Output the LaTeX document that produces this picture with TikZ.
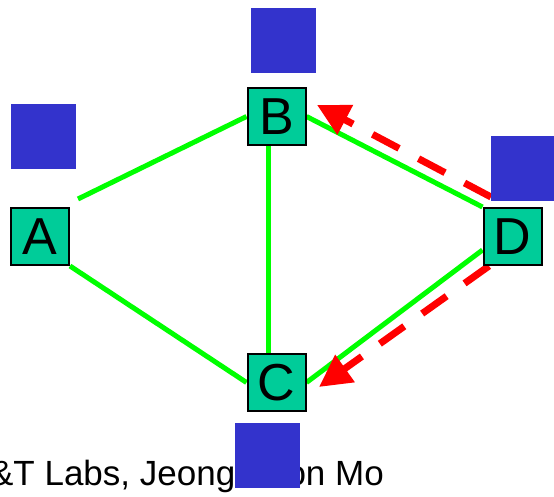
\documentclass[tikz,border=0pt]{standalone}
\usepackage{fontspec}
\setmainfont{Liberation Sans}
\usepackage{tikz}
\usetikzlibrary{arrows.meta,backgrounds}

\definecolor{routerfill}{HTML}{00CC99}
\definecolor{tagblue}{HTML}{3333CC}
\definecolor{linkgreen}{HTML}{00FF00}
\definecolor{msgred}{HTML}{FF0000}

\tikzset{
  router/.style={draw=black, line width=2pt, fill=routerfill, minimum width=58pt,
    minimum height=57pt, inner sep=0pt, font=\fontsize{52pt}{52pt}\selectfont},
  tagbox/.style={fill=tagblue, minimum size=65pt, inner sep=0pt},
  link/.style={draw=linkgreen, line width=5pt},
  update/.style={draw=msgred, line width=7pt, dash pattern=on 30pt off 22pt,
    -{Triangle[length=32pt,width=32pt]}, msgred},
}

\begin{document}
\begin{tikzpicture}[x=1pt, y=1pt]
  \useasboundingbox (0,0) rectangle (554,497);

  % routers
  \node[router] (A) at (40,260.5)  {A};
  \node[router] (B) at (276.5,380.5) {B};
  \node[router] (C) at (276.5,114.5) {C};
  \node[router] (D) at (512.5,260.5) {D};

  \begin{scope}[on background layer]
    % links
    \path[link] ([shift={(8,8)}]A.north east) -- (B.west);
    \path[link] (A.south east) -- (C.west);
    \path[link] ([xshift=-8.5]B.south) -- ([xshift=-8.5]C.north);
    \path[link] (B.east) -- (D.north west);
    \path[link] (C.east) -- ([yshift=-13.5]D.west);
    % updates sent by D
    \path[update] ([shift={(8.5,10)}]D.north west) -- ([shift={(10.5,11.5)}]B.east);
    \path[update] ([shift={(6.5,0)}]D.south west) -- ([shift={(12.5,-4.5)}]C.east);
  \end{scope}

  \node[anchor=base east, inner sep=0pt, font=\fontsize{35pt}{35pt}\selectfont]
    (credit) at (384,11) {AT\&T Labs, Jeong-Yeon Mo};

  % blue tags
  \node[tagbox] (tagA) at (43.5,360.5) {};
  \node[tagbox] (tagB) at (283.5,456.5) {};
  \node[tagbox] (tagC) at (267.5,41) {};
  \node[tagbox] (tagD) at (523.5,328.5) {};
\end{tikzpicture}
\end{document}
